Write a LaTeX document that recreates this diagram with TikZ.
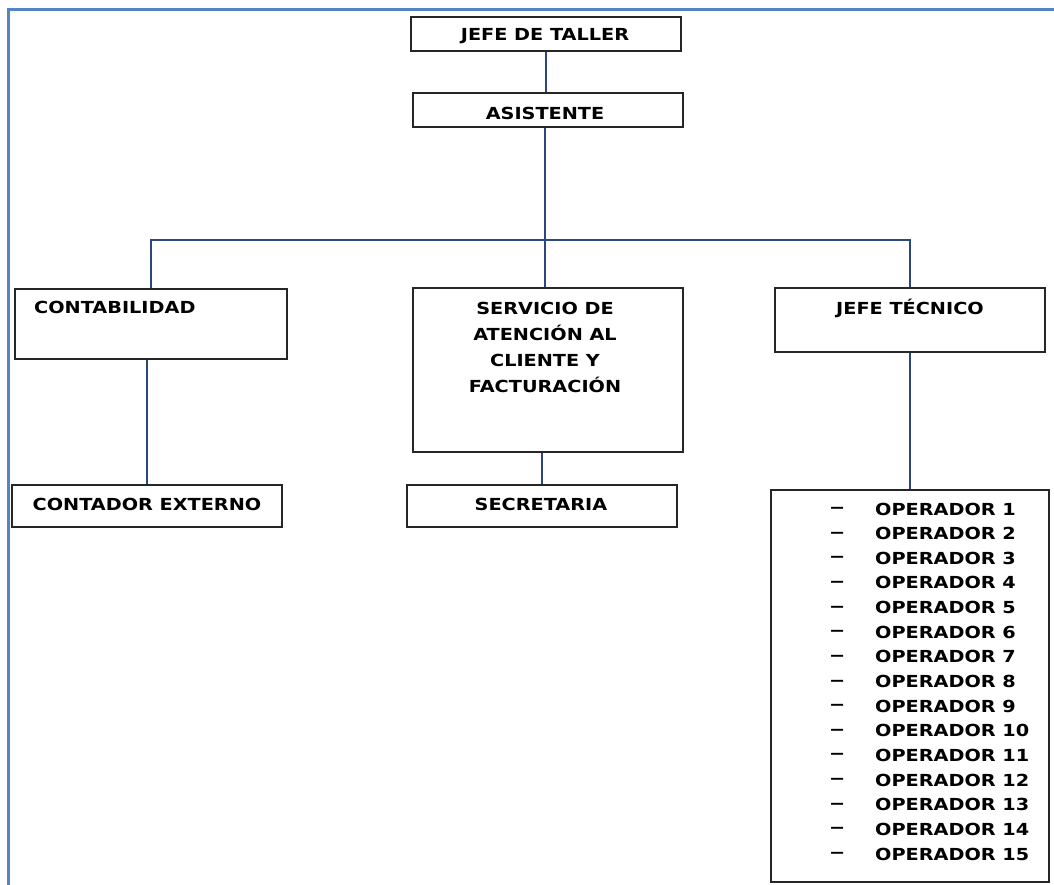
\documentclass[tikz,border=0pt]{standalone}
\usepackage{fontspec}
\setmainfont{DejaVu Sans}[FakeStretch=1.16]
\usepackage{xcolor}
\definecolor{Col1}{RGB}{38,38,38}
\definecolor{Col2}{RGB}{45,70,125}
\definecolor{Col3}{RGB}{84,132,196}
\usepackage{tikz}
\tikzstyle{Box}=[rectangle,draw=Col1,line width=2pt,inner sep=0pt]
\tikzstyle{Edge}=[draw=Col2,line width=1.8pt]
\tikzstyle{Label}=[font=\fontsize{16.6}{26.3}\selectfont\bfseries,inner sep=0pt,
text=black]
\tikzstyle{Frame}=[draw=Col3,line width=3pt]

\begin{document}
\begin{tikzpicture}[x=1pt,y=-1pt]
        \useasboundingbox (0,0) rectangle (1054,885);
        \draw[Frame](8,885)--(8,10)--(1054,10);
        \node[Box,minimum width=270,minimum height=34](jdt)at(546,34){};
        \node[Box,minimum width=270,minimum height=34](asi)at(548,110){};
        \node[Box,minimum width=272,minimum height=70](cont)at(151,324){};
        \node[Box,minimum width=270,minimum height=164](serv)at(548,370){};
        \node[Box,minimum width=270,minimum height=64](jtec)at(910,320){};
        \node[Box,minimum width=270,minimum height=42](cext)at(147,506){};
        \node[Box,minimum width=270,minimum height=42](secr)at(542,506){};
        \node[Box,minimum width=278,minimum height=392](ops)at(910,686){};
        \node[Label](jdt-t)at(545,36){JEFE DE TALLER};
        \node[Label](asi-t)at(545,113){ASISTENTE};
        \node[Label,anchor=west](cont-t)at(34,307){CONTABILIDAD};
        \node[Label,align=center](serv-t)at(545,347.5){SERVICIO DE\\ATENCIÓN AL\\CLIENTE Y\\FACTURACIÓN};
        \node[Label](jtec-t)at(910,308){JEFE TÉCNICO};
        \node[Label](cext-t)at(147,504){CONTADOR EXTERNO};
        \node[Label](secr-t)at(541,504){SECRETARIA};
        \foreach \i in {1,...,15}{
            \node[Label,anchor=west](d\i)at(829,{510.5+(\i-1)*24.64}){−};
            \node[Label,anchor=west](op\i)at(875,{509+(\i-1)*24.64}){OPERADOR \i};
        }
        \coordinate(bar)at(545,240);
        \draw[Edge](jdt.south)--(jdt.south|-asi.north);
        \draw[Edge](bar|-asi.south)--(bar|-serv.north);
        \draw[Edge](cont.north)--(cont.north|-bar)--(jtec.north|-bar)--(jtec.north);
        \draw[Edge](cext.north|-cont.south)--(cext.north);
        \draw[Edge](secr.north|-serv.south)--(secr.north);
        \draw[Edge](jtec.south)--(jtec.south|-ops.north);
    \end{tikzpicture}
\end{document}
